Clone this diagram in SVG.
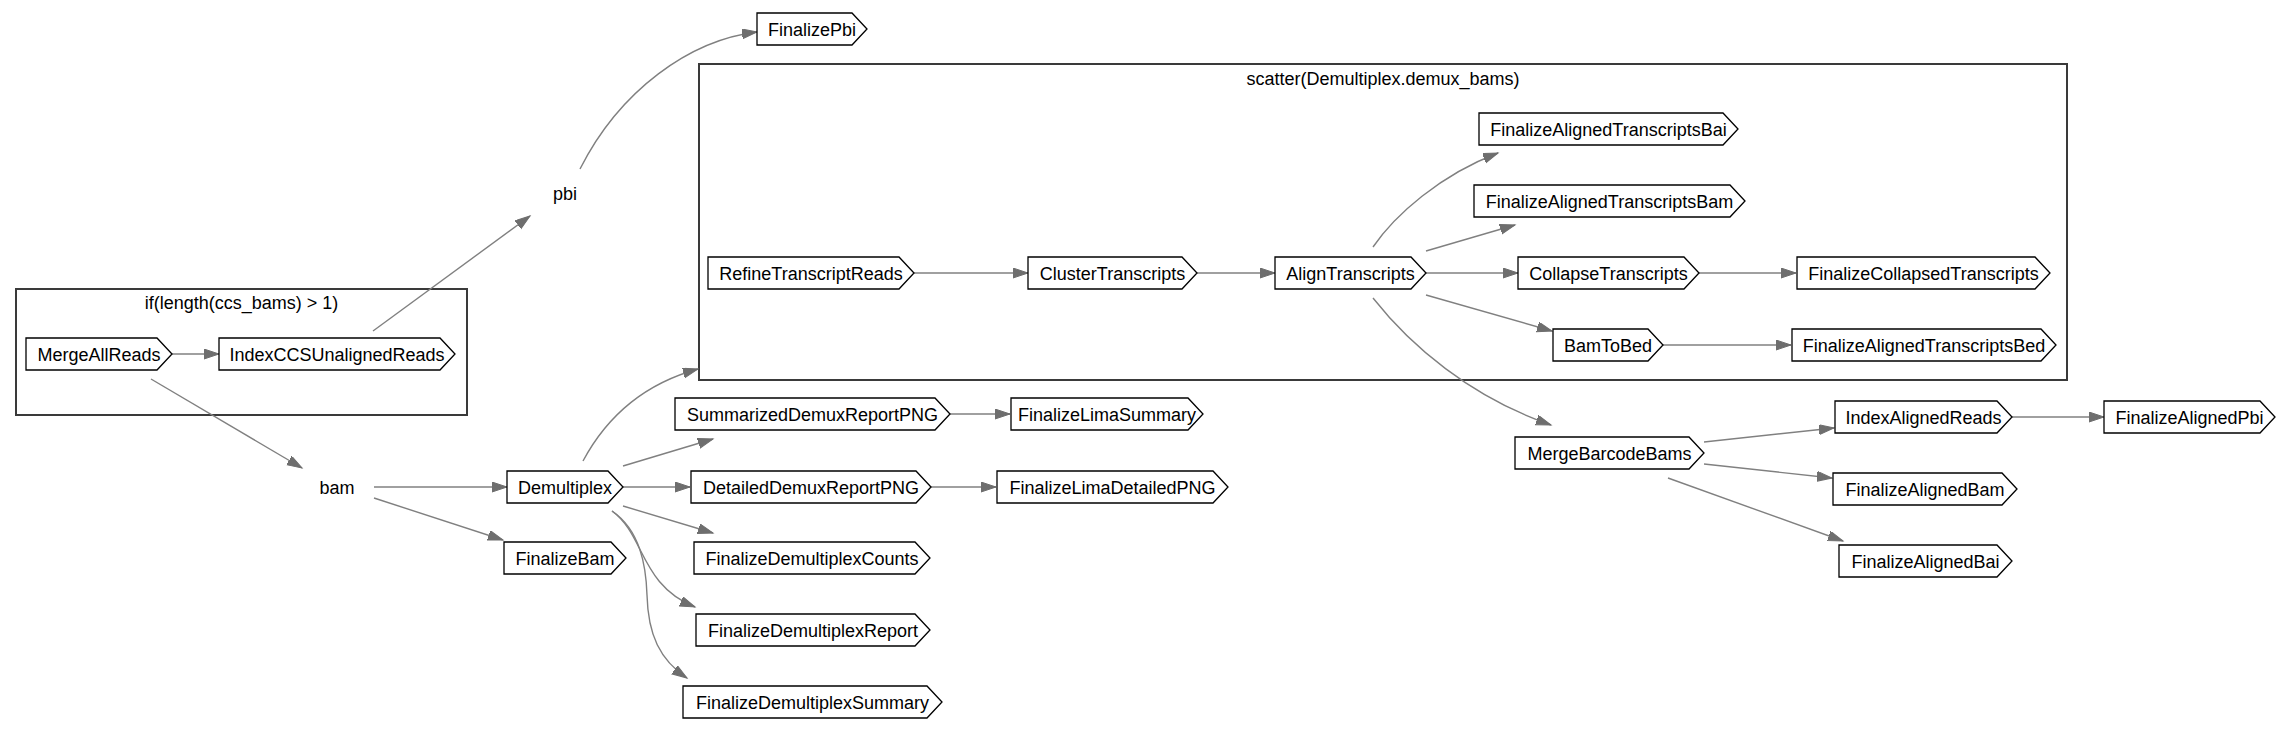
<svg xmlns="http://www.w3.org/2000/svg" width="2279" height="732" viewBox="0 0 2279 732">
<style>
text{font-family:"Liberation Sans",Arial,Helvetica,sans-serif;font-size:18px;fill:#000;text-anchor:middle}
.n polygon{fill:#fff;stroke:#000;stroke-width:1.3}
.c{fill:none;stroke:#3a3a3a;stroke-width:2}
.e path{fill:none;stroke:#808080;stroke-width:1.4;marker-end:url(#ah)}
</style>
<defs>
<marker id="ah" markerUnits="userSpaceOnUse" markerWidth="17" markerHeight="12" refX="15" refY="5" orient="auto">
<path d="M0,0 L15,5 L0,10 Z" fill="#6e6e6e" stroke="#6e6e6e" stroke-width="1"/>
</marker>
</defs>
<rect width="2279" height="732" fill="#fff"/>
<g id="cluster_if">
<rect class="c" x="16" y="289" width="451" height="126"/>
<text x="241.5" y="309">if(length(ccs_bams) &gt; 1)</text>
</g>
<g id="cluster_scatter">
<rect class="c" x="699" y="64" width="1368" height="316"/>
<text x="1383" y="85">scatter(Demultiplex.demux_bams)</text>
</g>
<g id="edges" class="e">
<path d="M172,354 L219,354"/>
<path d="M373,331 L530,216"/>
<path d="M151,379 L302,468"/>
<path d="M580,169 C620,90 690,40 757,32"/>
<path d="M374,487 L507,487"/>
<path d="M374,498 L503,540"/>
<path d="M583,461 C605,420 640,385 698,369"/>
<path d="M623,466 L713,439"/>
<path d="M623,487 L690,487"/>
<path d="M623,506 L713,533"/>
<path d="M612,511 C645,535 640,585 695,607"/>
<path d="M612,511 C640,530 646,565 647,595 C648,635 660,660 687,678"/>
<path d="M950,414 L1010,414"/>
<path d="M931,487 L996,487"/>
<path d="M914,273 L1028,273"/>
<path d="M1197,273 L1275,273"/>
<path d="M1373,247 C1395,215 1440,175 1498,153"/>
<path d="M1426,251 L1515,225"/>
<path d="M1426,273 L1518,273"/>
<path d="M1426,295 L1552,331"/>
<path d="M1373,298 C1410,345 1470,397 1551,425"/>
<path d="M1699,273 L1796,273"/>
<path d="M1663,345 L1791,345"/>
<path d="M1704,442 L1834,428"/>
<path d="M2012,417 L2104,417"/>
<path d="M1704,464 L1832,478"/>
<path d="M1668,478 L1843,541"/>
</g>
<g id="pbi"><text x="565" y="200">pbi</text></g>
<g id="bam"><text x="337" y="494">bam</text></g>
<g id="MergeAllReads" class="n"><polygon points="26,338 157,338 172,354 157,370 26,370"/><text x="99" y="361">MergeAllReads</text></g>
<g id="IndexCCSUnalignedReads" class="n"><polygon points="219,338 440,338 455,354 440,370 219,370"/><text x="337" y="361">IndexCCSUnalignedReads</text></g>
<g id="FinalizePbi" class="n"><polygon points="757,13 852,13 867,29 852,45 757,45"/><text x="812" y="36">FinalizePbi</text></g>
<g id="Demultiplex" class="n"><polygon points="507,471 608,471 623,487 608,503 507,503"/><text x="565" y="494">Demultiplex</text></g>
<g id="FinalizeBam" class="n"><polygon points="504,542 611,542 626,558 611,574 504,574"/><text x="565" y="565">FinalizeBam</text></g>
<g id="SummarizedDemuxReportPNG" class="n"><polygon points="675,398 935,398 950,414 935,430 675,430"/><text x="812.5" y="421">SummarizedDemuxReportPNG</text></g>
<g id="DetailedDemuxReportPNG" class="n"><polygon points="691,471 916,471 931,487 916,503 691,503"/><text x="811" y="494">DetailedDemuxReportPNG</text></g>
<g id="FinalizeDemultiplexCounts" class="n"><polygon points="694,542 915,542 930,558 915,574 694,574"/><text x="812" y="565">FinalizeDemultiplexCounts</text></g>
<g id="FinalizeDemultiplexReport" class="n"><polygon points="696,614 915,614 930,630 915,646 696,646"/><text x="813" y="637">FinalizeDemultiplexReport</text></g>
<g id="FinalizeDemultiplexSummary" class="n"><polygon points="683,686 927,686 942,702 927,718 683,718"/><text x="812.5" y="709">FinalizeDemultiplexSummary</text></g>
<g id="FinalizeLimaSummary" class="n"><polygon points="1011,398 1188,398 1203,414 1188,430 1011,430"/><text x="1107" y="421">FinalizeLimaSummary</text></g>
<g id="FinalizeLimaDetailedPNG" class="n"><polygon points="997,471 1213,471 1228,487 1213,503 997,503"/><text x="1112.5" y="494">FinalizeLimaDetailedPNG</text></g>
<g id="RefineTranscriptReads" class="n"><polygon points="708,257 899,257 914,273 899,289 708,289"/><text x="811" y="280">RefineTranscriptReads</text></g>
<g id="ClusterTranscripts" class="n"><polygon points="1028,257 1182,257 1197,273 1182,289 1028,289"/><text x="1112.5" y="280">ClusterTranscripts</text></g>
<g id="AlignTranscripts" class="n"><polygon points="1275,257 1411,257 1426,273 1411,289 1275,289"/><text x="1350.5" y="280">AlignTranscripts</text></g>
<g id="FinalizeAlignedTranscriptsBai" class="n"><polygon points="1479,113 1723,113 1738,129 1723,145 1479,145"/><text x="1608.5" y="136">FinalizeAlignedTranscriptsBai</text></g>
<g id="FinalizeAlignedTranscriptsBam" class="n"><polygon points="1474,185 1730,185 1745,201 1730,217 1474,217"/><text x="1609.5" y="208">FinalizeAlignedTranscriptsBam</text></g>
<g id="CollapseTranscripts" class="n"><polygon points="1518,257 1684,257 1699,273 1684,289 1518,289"/><text x="1608.5" y="280">CollapseTranscripts</text></g>
<g id="FinalizeCollapsedTranscripts" class="n"><polygon points="1797,257 2035,257 2050,273 2035,289 1797,289"/><text x="1923.5" y="280">FinalizeCollapsedTranscripts</text></g>
<g id="BamToBed" class="n"><polygon points="1553,329 1648,329 1663,345 1648,361 1553,361"/><text x="1608" y="352">BamToBed</text></g>
<g id="FinalizeAlignedTranscriptsBed" class="n"><polygon points="1792,329 2041,329 2056,345 2041,361 1792,361"/><text x="1924" y="352">FinalizeAlignedTranscriptsBed</text></g>
<g id="MergeBarcodeBams" class="n"><polygon points="1515,437 1689,437 1704,453 1689,469 1515,469"/><text x="1609.5" y="460">MergeBarcodeBams</text></g>
<g id="IndexAlignedReads" class="n"><polygon points="1835,401 1997,401 2012,417 1997,433 1835,433"/><text x="1923.5" y="424">IndexAlignedReads</text></g>
<g id="FinalizeAlignedPbi" class="n"><polygon points="2104,401 2260,401 2275,417 2260,433 2104,433"/><text x="2189.5" y="424">FinalizeAlignedPbi</text></g>
<g id="FinalizeAlignedBam" class="n"><polygon points="1833,473 2002,473 2017,489 2002,505 1833,505"/><text x="1925" y="496">FinalizeAlignedBam</text></g>
<g id="FinalizeAlignedBai" class="n"><polygon points="1839,545 1997,545 2012,561 1997,577 1839,577"/><text x="1925.5" y="568">FinalizeAlignedBai</text></g>
</svg>
